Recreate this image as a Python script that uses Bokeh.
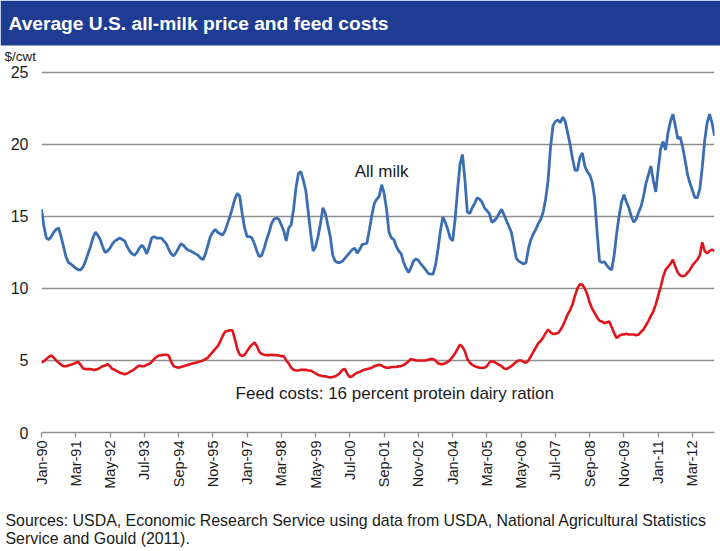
import numpy as np
from bokeh.plotting import figure
from bokeh.models import Range1d, FixedTicker, Label
from bokeh.layouts import column, row
from bokeh.embed import file_html
from bokeh.resources import INLINE

# ---------------- data (monthly, Jan-1990 .. Dec-2012) ----------------
all_milk_by_year = [
    [15.5, 14.3, 13.5, 13.4, 13.6, 13.9, 14.1, 14.2, 13.6, 12.9, 12.2, 11.8],   # 1990
    [11.7, 11.55, 11.4, 11.3, 11.3, 11.5, 11.9, 12.4, 12.9, 13.5, 13.9, 13.7],  # 1991
    [13.4, 12.9, 12.5, 12.6, 12.8, 13.1, 13.3, 13.4, 13.5, 13.4, 13.3, 12.9],   # 1992
    [12.6, 12.4, 12.3, 12.5, 12.8, 13.0, 12.8, 12.4, 12.9, 13.5, 13.6, 13.5],   # 1993
    [13.5, 13.5, 13.3, 13.1, 12.7, 12.4, 12.25, 12.5, 12.8, 13.1, 13.0, 12.8],  # 1994
    [12.65, 12.6, 12.5, 12.4, 12.3, 12.1, 12.0, 12.4, 13.0, 13.6, 13.9, 14.1],  # 1995
    [13.9, 13.8, 13.7, 14.0, 14.5, 15.0, 15.6, 16.2, 16.6, 16.4, 15.2, 14.2],   # 1996
    [13.6, 13.6, 13.5, 13.1, 12.6, 12.2, 12.3, 12.8, 13.4, 13.9, 14.5, 14.8],   # 1997
    [14.9, 14.8, 14.4, 14.0, 13.3, 14.2, 14.4, 15.5, 17.0, 18.0, 18.1, 17.5],   # 1998
    [16.8, 15.3, 13.8, 12.6, 12.9, 13.6, 14.5, 15.6, 15.2, 14.4, 13.6, 12.3],   # 1999
    [11.9, 11.8, 11.8, 11.9, 12.1, 12.3, 12.5, 12.7, 12.8, 12.45, 12.7, 13.05], # 2000
    [13.1, 13.15, 14.1, 15.1, 15.9, 16.2, 16.4, 17.2, 16.6, 15.5, 13.9, 13.5],  # 2001
    [13.4, 12.9, 12.6, 12.4, 11.8, 11.4, 11.1, 11.45, 11.9, 12.05, 11.95, 11.7],# 2002
    [11.5, 11.3, 11.05, 11.0, 11.0, 11.6, 12.7, 14.0, 14.95, 14.6, 14.1, 13.5], # 2003
    [13.3, 14.8, 16.8, 18.6, 19.3, 17.6, 15.3, 15.2, 15.6, 15.9, 16.3, 16.2],   # 2004
    [16.0, 15.6, 15.4, 15.2, 14.6, 14.7, 14.9, 15.2, 15.5, 15.1, 14.7, 14.3],   # 2005
    [13.9, 13.0, 12.1, 11.9, 11.8, 11.7, 11.8, 12.8, 13.4, 13.8, 14.1, 14.5],   # 2006
    [14.8, 15.3, 16.2, 17.5, 19.8, 21.3, 21.6, 21.7, 21.5, 21.9, 21.6, 20.8],   # 2007
    [20.0, 19.0, 18.2, 18.2, 19.1, 19.4, 18.5, 18.1, 17.9, 17.4, 16.3, 14.0],   # 2008
    [11.9, 11.8, 11.85, 11.6, 11.4, 11.3, 12.3, 13.8, 15.0, 16.0, 16.5, 16.0],  # 2009
    [15.6, 15.0, 14.6, 14.8, 15.3, 15.7, 16.4, 17.3, 17.9, 18.5, 17.5, 16.7],   # 2010
    [18.3, 19.7, 20.2, 19.6, 20.8, 21.6, 22.1, 21.3, 20.4, 20.5, 19.8, 18.9],   # 2011
    [17.9, 17.3, 16.8, 16.3, 16.3, 16.9, 18.4, 20.3, 21.5, 22.1, 21.5, 20.6],   # 2012
]

feed_costs_by_year = [
    [4.85, 4.95, 5.1, 5.25, 5.35, 5.2, 5.0, 4.85, 4.7, 4.6, 4.6, 4.65],     # 1990
    [4.7, 4.75, 4.85, 4.9, 4.7, 4.45, 4.4, 4.4, 4.4, 4.35, 4.35, 4.4],      # 1991
    [4.5, 4.6, 4.65, 4.75, 4.6, 4.4, 4.35, 4.25, 4.15, 4.1, 4.05, 4.1],     # 1992
    [4.2, 4.3, 4.4, 4.55, 4.65, 4.6, 4.6, 4.7, 4.75, 4.9, 5.1, 5.25],       # 1993
    [5.35, 5.37, 5.4, 5.4, 5.35, 4.9, 4.6, 4.55, 4.5, 4.55, 4.6, 4.65],     # 1994
    [4.7, 4.75, 4.8, 4.85, 4.9, 4.95, 5.0, 5.1, 5.2, 5.4, 5.6, 5.8],        # 1995
    [6.0, 6.3, 6.7, 7.0, 7.05, 7.1, 7.1, 6.5, 5.8, 5.4, 5.3, 5.4],          # 1996
    [5.65, 5.9, 6.1, 6.25, 6.0, 5.6, 5.45, 5.4, 5.37, 5.37, 5.4, 5.37],     # 1997
    [5.37, 5.35, 5.3, 5.3, 5.0, 4.8, 4.5, 4.35, 4.3, 4.3, 4.35, 4.35],      # 1998
    [4.35, 4.3, 4.3, 4.2, 4.1, 4.0, 3.95, 3.9, 3.9, 3.85, 3.82, 3.85],      # 1999
    [3.9, 4.0, 4.15, 4.35, 4.4, 4.05, 3.85, 3.9, 4.05, 4.15, 4.2, 4.3],     # 2000
    [4.35, 4.4, 4.45, 4.5, 4.6, 4.65, 4.7, 4.65, 4.55, 4.5, 4.5, 4.55],     # 2001
    [4.55, 4.55, 4.6, 4.6, 4.7, 4.8, 4.95, 5.1, 5.05, 5.0, 5.0, 5.0],       # 2002
    [5.0, 5.0, 5.05, 5.1, 5.1, 5.0, 4.8, 4.75, 4.75, 4.8, 4.9, 5.05],       # 2003
    [5.25, 5.5, 5.8, 6.1, 5.95, 5.65, 5.1, 4.85, 4.7, 4.6, 4.55, 4.5],      # 2004
    [4.5, 4.5, 4.6, 4.85, 4.95, 4.9, 4.8, 4.7, 4.6, 4.45, 4.4, 4.5],        # 2005
    [4.6, 4.75, 4.9, 5.0, 5.0, 4.9, 4.85, 5.0, 5.3, 5.6, 5.9, 6.2],         # 2006
    [6.35, 6.6, 6.9, 7.15, 6.95, 6.85, 6.85, 6.9, 7.1, 7.4, 7.8, 8.2],      # 2007
    [8.5, 8.9, 9.5, 10.0, 10.3, 10.25, 10.0, 9.6, 9.0, 8.6, 8.3, 8.0],      # 2008
    [7.75, 7.7, 7.6, 7.65, 7.7, 7.3, 6.9, 6.55, 6.7, 6.8, 6.8, 6.85],       # 2009
    [6.8, 6.8, 6.8, 6.75, 6.8, 7.0, 7.15, 7.45, 7.75, 8.1, 8.4, 8.9],       # 2010
    [9.5, 10.1, 10.8, 11.3, 11.5, 11.7, 12.0, 11.5, 11.1, 10.9, 10.85, 10.9],  # 2011
    [11.1, 11.3, 11.6, 11.8, 12.0, 12.3, 13.2, 12.6, 12.45, 12.6, 12.7, 12.6], # 2012
]

all_milk = [v for row_ in all_milk_by_year for v in row_]
feed_costs = [v for row_ in feed_costs_by_year for v in row_]
months = list(range(len(all_milk)))  # month index, 0 = Jan-1990

tick_labels = ["Jan-90", "Mar-91", "May-92", "Jul-93", "Sep-94", "Nov-95", "Jan-97",
               "Mar-98", "May-99", "Jul-00", "Sep-01", "Nov-02", "Jan-04", "Mar-05",
               "May-06", "Jul-07", "Sep-08", "Nov-09", "Jan-11", "Mar-12"]
tick_positions = [14 * k for k in range(len(tick_labels))]
y_ticks = [0, 5, 10, 15, 20, 25]

title_text = "Average U.S. all-milk price and feed costs"
unit_text = "$/cwt"
milk_label = "All milk"
feed_label = "Feed costs: 16 percent protein dairy ration"
source_lines = ["Sources: USDA, Economic Research Service using data from USDA, National Agricultural Statistics",
                "Service and Gould (2011)."]

FONT = "Liberation Sans"
TXT = "#1a1a1a"
BLUE = "#3b6db3"
RED = "#e1141c"
GRID = "#8f8f8f"
HEADER = "#1e3c94"

W = 720


def panel(height):
    """A bare figure whose frame is its whole canvas, in pixel coordinates."""
    f = figure(width=W, height=height, x_range=Range1d(0, W), y_range=Range1d(height, 0),
               x_axis_type=None, y_axis_type=None, toolbar_location=None,
               output_backend="svg", min_border=0, outline_line_color=None)
    f.grid.visible = False
    return f


# ---------------- header ----------------
hdr = panel(64)
hdr.quad(left=0, right=W, top=0, bottom=45, fill_color=HEADER, line_color=None)
hdr.add_layout(Label(x=8, y=23, text=title_text, text_color="white", text_font=FONT,
                     text_font_style="bold", text_font_size="19.2px", text_baseline="middle"))
hdr.add_layout(Label(x=4, y=55.5, text=unit_text, text_color=TXT, text_font=FONT,
                     text_font_size="13.5px", text_baseline="middle"))

# ---------------- main chart ----------------
p = figure(width=W, height=446, x_range=Range1d(0, 275), y_range=Range1d(0, 25.2),
           toolbar_location=None, output_backend="svg",
           min_border_left=41, min_border_right=6, min_border_top=5, min_border_bottom=78,
           outline_line_color=None)

p.xgrid.visible = False
p.ygrid.ticker = FixedTicker(ticks=[5, 10, 15, 20, 25])
p.ygrid.grid_line_color = GRID
p.ygrid.grid_line_width = 1.6

p.line(months, all_milk, line_color=BLUE, line_width=2.8)
p.line(months, feed_costs, line_color=RED, line_width=2.6)

p.xaxis.ticker = FixedTicker(ticks=tick_positions)
p.xaxis.major_label_overrides = {pos: lab for pos, lab in zip(tick_positions, tick_labels)}
p.xaxis.major_label_orientation = np.pi / 2
p.xaxis.axis_line_color = GRID
p.xaxis.axis_line_width = 1.6
p.xaxis.major_tick_line_color = GRID
p.xaxis.major_tick_line_width = 1.3
p.xaxis.major_tick_out = 5
p.xaxis.major_tick_in = 0
p.xaxis.minor_tick_line_color = None
p.xaxis.major_label_standoff = 3
p.xaxis.major_label_text_font = FONT
p.xaxis.major_label_text_font_size = "14.5px"
p.xaxis.major_label_text_color = TXT

p.yaxis.ticker = FixedTicker(ticks=y_ticks)
p.yaxis.axis_line_color = None
p.yaxis.major_tick_line_color = None
p.yaxis.minor_tick_line_color = None
p.yaxis.major_tick_out = 0
p.yaxis.major_tick_in = 0
p.yaxis.major_label_standoff = 13
p.yaxis.major_label_text_font = FONT
p.yaxis.major_label_text_font_size = "16px"
p.yaxis.major_label_text_color = TXT

p.add_layout(Label(x=139, y=18.1, text=milk_label, text_font=FONT, text_font_size="17px",
                   text_color=TXT, text_align="center", text_baseline="middle"))
p.add_layout(Label(x=79.3, y=2.7, text=feed_label, text_font=FONT, text_font_size="17px",
                   text_color=TXT, text_align="left", text_baseline="middle"))

# ---------------- footer (sources) ----------------
ftr = panel(41)
for k, line_text in enumerate(source_lines):
    ftr.add_layout(Label(x=5, y=10 + 18 * k, text=line_text, text_font=FONT,
                         text_font_size="15.9px", text_color=TXT, text_baseline="middle"))

# wrap header/footer in their own rows so their frames are not aligned with the chart frame
layout = column(row(hdr), p, row(ftr), spacing=0)
open("out.html", "w").write(file_html(layout, INLINE))
